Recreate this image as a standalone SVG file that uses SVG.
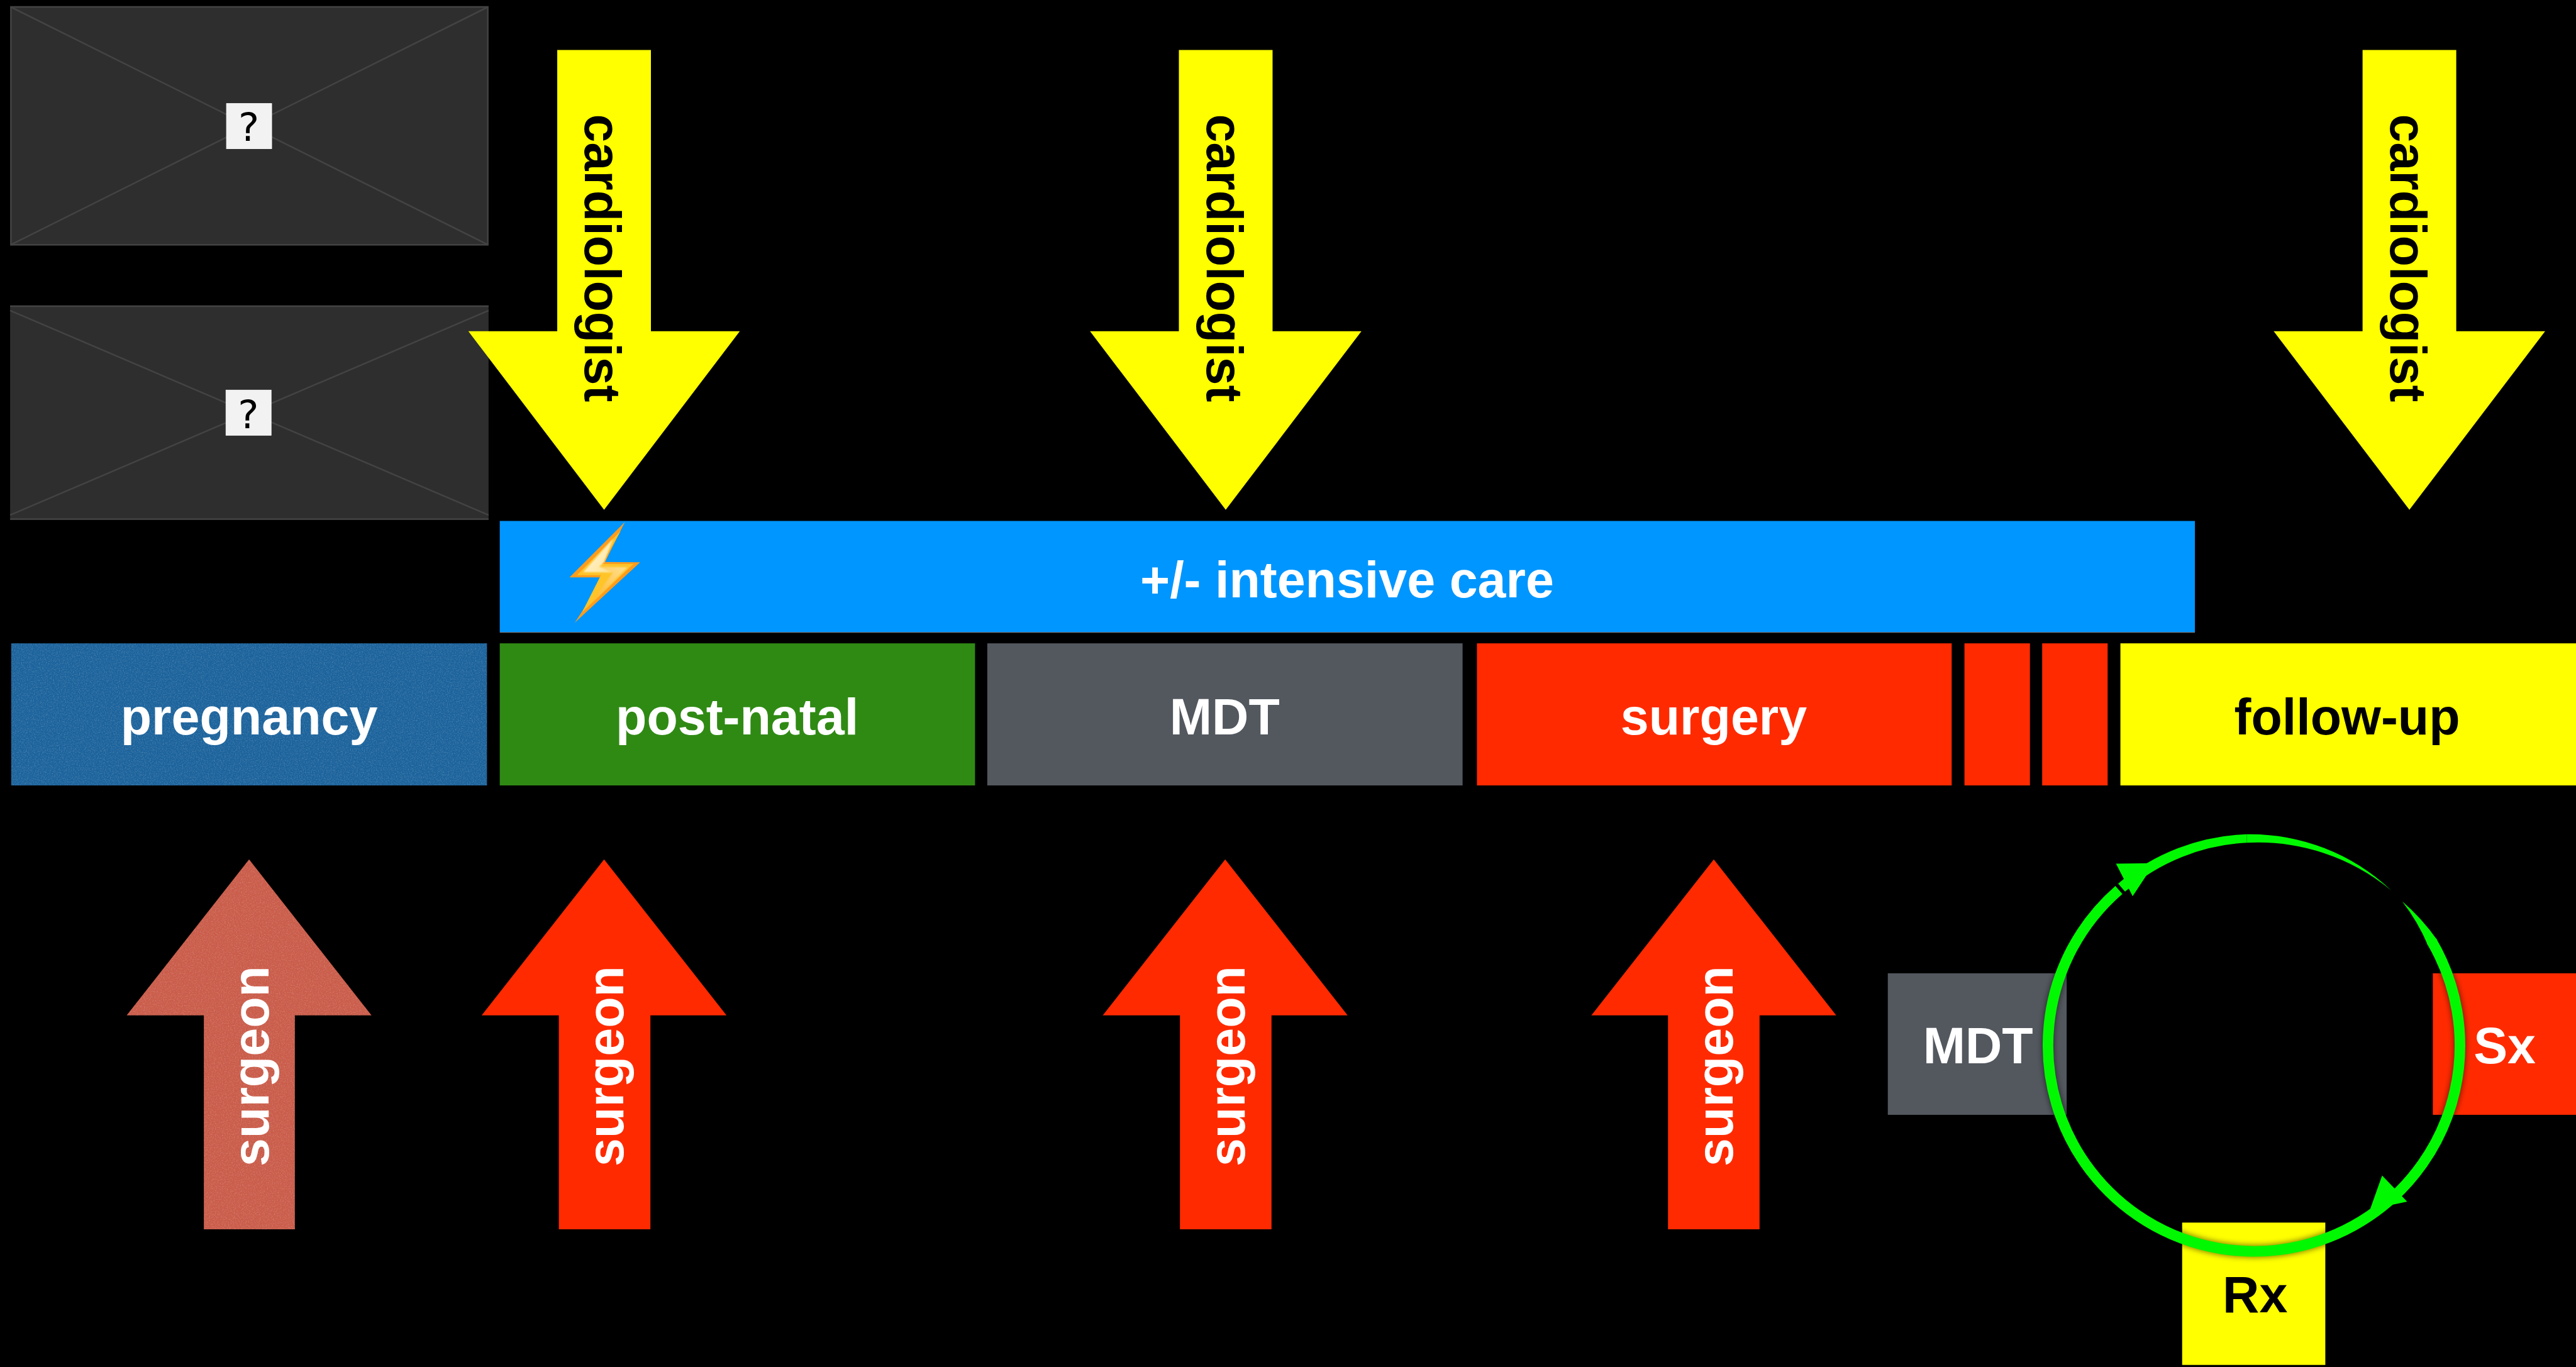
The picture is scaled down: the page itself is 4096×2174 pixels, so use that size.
<svg xmlns="http://www.w3.org/2000/svg" width="4096" height="2174" viewBox="0 0 4096 2174">
<style>
.t{font-family:"Liberation Sans",Arial,sans-serif;font-weight:700;font-size:95.5px;text-anchor:middle}
.w{fill:#fff}.k{fill:#000}
.ph{fill:#2e2e2e}.phl{stroke:#434343;stroke-width:3;fill:none}
.q{fill:#f2f2f2;stroke:#fff;stroke-width:1}
.qt{font-family:"DejaVu Sans",sans-serif;font-size:74px;text-anchor:middle;fill:#000}
.y{fill:#ffff00}.r{fill:#ff2a00}.g{fill:#00f900}.gray{fill:#53585f}
</style>
<defs>
<filter id="noise" x="0" y="0" width="1" height="1" color-interpolation-filters="sRGB">
<feTurbulence type="fractalNoise" baseFrequency="0.45" numOctaves="2" seed="4" result="n"/>
<feColorMatrix in="n" type="matrix" values="0 0 0 0 1 0 0 0 0 1 0 0 0 0 1 0.45 0 0 0 -0.2" result="a"/>
<feComposite in="a" in2="SourceAlpha" operator="in" result="c"/>
<feMerge><feMergeNode in="SourceGraphic"/><feMergeNode in="c"/></feMerge>
</filter>
<filter id="soft" x="-20%" y="-20%" width="140%" height="140%"><feGaussianBlur stdDeviation="5"/></filter>
<filter id="soft2" x="-20%" y="-20%" width="140%" height="140%"><feGaussianBlur stdDeviation="1"/></filter>
<linearGradient id="boltA" x1="0" y1="0" x2="1" y2="1"><stop offset="0" stop-color="#fff8ec"/><stop offset="1" stop-color="#ffe28e"/></linearGradient>
<linearGradient id="boltB" x1="1" y1="0" x2="0" y2="1"><stop offset="0" stop-color="#ffe08f"/><stop offset="1" stop-color="#ffb62e"/></linearGradient>
</defs>
<rect width="4096" height="2174" fill="#000"/>
<g transform="scale(0.84628)">
<g id="placeholder-1">
<rect class="ph" x="20.5" y="13" width="896" height="447"/>
<rect class="phl" x="20.5" y="13" width="896" height="447"/>
<path class="phl" d="M20,13L917,460M917,13L20,460"/>
<rect class="q" x="425.5" y="194.5" width="85" height="85"/>
<text class="qt" x="467.5" y="265">?</text>
</g>
<g id="placeholder-2">
<rect class="ph" x="19" y="574" width="899" height="403"/>
<path class="phl" d="M19,575.5H918M19,975.5H918M19,583.5L918,968M918,583.5L19,968"/>
<rect class="q" x="424.5" y="733" width="85" height="85"/>
<text class="qt" x="466.5" y="805">?</text>
</g>
<g id="intensive-care">
<rect x="939" y="979" width="3185" height="209" fill="#0096ff"/>
<rect x="939" y="1188" width="3185" height="1" fill="#9a9a9a"/>
<text class="t w" x="2531" y="1122">+/- intensive care</text>
<polygon points="1174,981 1136.7,1056 1202.7,1056.7 1080,1170 1135,1085 1070,1085" fill="#ff9c1c"/>
<polygon points="1166,998 1131,1060 1190,1060 1094,1150 1129,1081 1084,1081" fill="#ffc428"/>
<g filter="url(#soft2)">
<polygon points="1151.7,1012.7 1096,1075 1152,1076 1126,1065 1135,1056" fill="url(#boltA)"/>
<polygon points="1126,1065 1179,1066 1112,1132 1147,1082 1152,1076" fill="url(#boltB)"/>
</g>
</g>
<g id="pregnancy"><rect x="21" y="1209" width="894" height="267" fill="#1c639c" filter="url(#noise)"/><text class="t w" x="468" y="1380">pregnancy</text></g>
<g id="post-natal"><rect x="939" y="1209" width="893" height="267" fill="#2f8a14"/><text class="t w" x="1385" y="1380">post-natal</text></g>
<g id="mdt"><rect class="gray" x="1855" y="1209" width="893" height="267"/><text class="t w" x="2301" y="1380">MDT</text></g>
<g id="surgery"><rect class="r" x="2775" y="1209" width="892" height="267"/><text class="t w" x="3220" y="1380">surgery</text></g>
<g id="surgery-2"><rect class="r" x="3691" y="1209" width="123" height="267"/></g>
<g id="surgery-3"><rect class="r" x="3837" y="1209" width="123" height="267"/></g>
<g id="follow-up"><rect class="y" x="3984" y="1209" width="856" height="267"/><text class="t k" x="4410" y="1380">follow-up</text></g>
<g id="cardiologist-1"><polygon class="y" points="1047,94 1223,94 1223,622.5 1390,622.5 1135,958 880,622.5 1047,622.5"/><text class="t k" transform="translate(1099,485) rotate(90)">cardiologist</text></g>
<g id="cardiologist-2"><polygon class="y" points="2215,94 2391,94 2391,622.5 2558,622.5 2303,958 2048,622.5 2215,622.5"/><text class="t k" transform="translate(2267,485) rotate(90)">cardiologist</text></g>
<g id="cardiologist-3"><polygon class="y" points="4439,94 4615,94 4615,622.5 4782,622.5 4527,958 4272,622.5 4439,622.5"/><text class="t k" transform="translate(4491,485) rotate(90)">cardiologist</text></g>
<g id="surgeon-1"><polygon fill="#ca5c4a" filter="url(#noise)" points="468,1615 698,1908 554,1908 554,2310 383,2310 383,1908 238,1908"/><text class="t w" transform="translate(504,2003.5) rotate(-90)">surgeon</text></g>
<g id="surgeon-2"><polygon class="r" points="1135,1615 1365,1908 1222,1908 1222,2310 1050,2310 1050,1908 905,1908"/><text class="t w" transform="translate(1171,2003.5) rotate(-90)">surgeon</text></g>
<g id="surgeon-3"><polygon class="r" points="2302,1615 2532,1908 2389,1908 2389,2310 2217,2310 2217,1908 2072,1908"/><text class="t w" transform="translate(2338,2003.5) rotate(-90)">surgeon</text></g>
<g id="surgeon-4"><polygon class="r" points="3220,1615 3450,1908 3306,1908 3306,2310 3134,2310 3134,1908 2990,1908"/><text class="t w" transform="translate(3256,2003.5) rotate(-90)">surgeon</text></g>
<g id="cycle-mdt"><rect class="gray" x="3547" y="1829" width="336" height="266"/><text class="t w" x="3716.5" y="1998">MDT</text></g>
<g id="cycle-sx"><rect class="r" x="4571" y="1829" width="269" height="266"/><text class="t w" x="4706" y="1998">Sx</text></g>
<g id="cycle-rx"><rect class="y" x="4100" y="2297.5" width="269" height="267.5"/><text class="t k" x="4237" y="2466.5">Rx</text></g>
<g id="connectors">
<circle cx="4235" cy="1964.5" r="387" fill="none" stroke="#000" stroke-opacity="0.45" stroke-width="24" filter="url(#soft)"/>
<path class="g" d="M4513.5,1694A397,397 0 0 1 4578.8,1766L4561.5,1776A377,377 0 0 0 4513.5,1694Z"/>
<path d="M4568.4,1768.1A387,387 0 1 1 3981.1,1672.4" fill="none" stroke="#00f900" stroke-width="20"/>
<path class="g" d="M3979.8,1660.4A397,397 0 0 1 4221.1,1567.7L4221.6,1583.7A378,378 0 0 0 3992.7,1675.7Z"/>
<path class="g" d="M4221.1,1567.7A386,386 0 0 1 4492.5,1673A393,393 0 0 0 4221.6,1583.7Z"/>
<polygon class="g" points="3975.7,1623 4048,1622 4007,1684"/>
<polygon class="g" points="4475.7,2209 4522.7,2258 4453,2273"/>
</g>
</g>
</svg>
